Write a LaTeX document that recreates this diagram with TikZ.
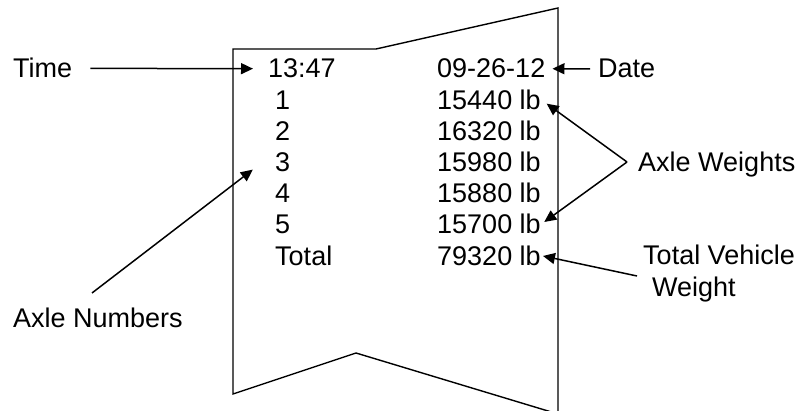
\documentclass[tikz,border=0pt]{standalone}
\usepackage{fontspec}
\setmainfont{Liberation Sans}
\usetikzlibrary{arrows.meta}

\tikzset{
  lbl/.style={inner sep=0pt, anchor=base west, font=\fontsize{27}{31}\selectfont},
  arr/.style={line width=1.5pt, -{Triangle[length=12pt,width=11pt]}},
  slip/.style={line width=1.4pt, line join=miter}
}

\begin{document}
\begin{tikzpicture}[x=1pt,y=-1pt]
  \useasboundingbox (0,0) rectangle (799,411);

  % Outline of the torn ticket
  \draw[slip] (233,49) -- (376,49) -- (558,8) -- (558,414) -- (356,353) -- (233,394) -- cycle;

  % Header line
  \node[lbl] (time) at (13,78) {Time};
  \node[lbl] (clock) at (268,78) {13:47};
  \node[lbl] (date) at (437,78) {09-26-12};
  \node[lbl] (datelbl) at (598,78) {Date};

  % Axle rows
  \foreach \n/\w [count=\i] in {1/15440,2/16320,3/15980,4/15880,5/15700,Total/79320} {
    \node[lbl] (ax\i) at (275,78+31.2*\i) {\n};
    \node[lbl] (wt\i) at (437,78+31.2*\i) {\w~lb};
  }

  % Callouts
  \node[lbl] (axw) at (638,172) {Axle Weights};
  \node[lbl] (tvw) at (643,265) {Total Vehicle};
  \node[lbl] (tvw2) at (652,296) {Weight};
  \node[lbl] (axn) at (13,327) {Axle Numbers};

  \coordinate (fork) at (627,162);
  \coordinate (tvwfoot) at (637,276);
  \coordinate (axnfoot) at (92,293);

  \draw[arr, shorten <=18pt, shorten >=15pt] (time.east) -- (clock.west);
  \draw[arr, shorten <=8pt, shorten >=7pt] (datelbl.west) -- (date.east);
  \draw[arr, shorten >=7pt] (fork) -- (wt1.east);
  \draw[arr, shorten >=4pt] (fork) -- (wt5.east);
  \draw[arr, shorten >=2pt] (tvwfoot) -- (wt6.east);
  \draw[arr, shorten >=28pt] (axnfoot) -- (ax3.north west);
\end{tikzpicture}
\end{document}
